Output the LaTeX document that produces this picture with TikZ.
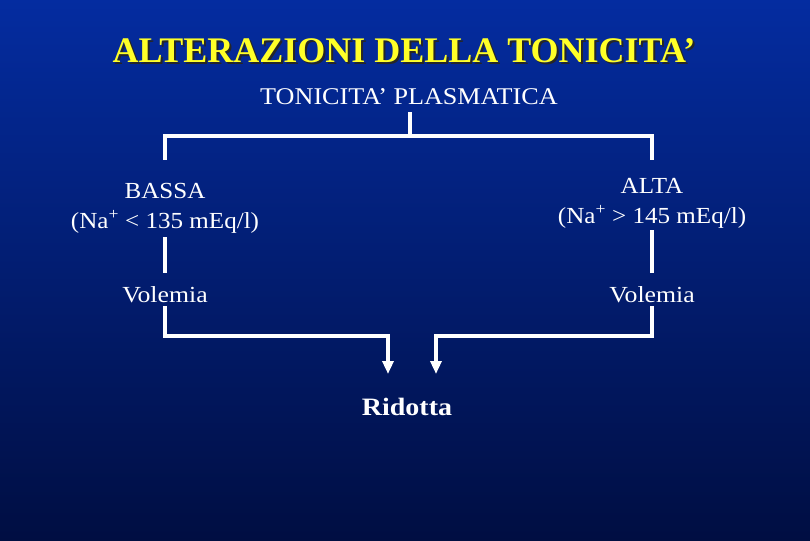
\documentclass[tikz,border=0pt]{standalone}
\usepackage{fontspec}
\setmainfont{Liberation Serif}
\newfontfamily\widefont[FakeStretch=1.09]{Liberation Serif}
\newfontfamily\widerfont[FakeStretch=1.12]{Liberation Serif}
\usetikzlibrary{arrows.meta,shadings}
\definecolor{bgtop}{RGB}{4,44,160}
\definecolor{bgbot}{RGB}{0,14,66}
\definecolor{ttl}{RGB}{255,255,40}
\newcommand{\shadowed}[1]{\makebox[0pt][l]{\hspace{2pt}\raisebox{-2pt}{\color{black!85}#1}}#1}
\tikzset{
  conn/.style={draw=white,line width=4pt,line join=miter,line cap=butt},
  arr/.style={conn,-{Triangle[width=11pt,length=13pt]}},
  lbl/.style={text=white,inner sep=0pt,align=center,font=\widefont\fontsize{23}{30}\selectfont},
}
\begin{document}
\begin{tikzpicture}[x=1pt,y=-1pt]
\shade[top color=bgtop,bottom color=bgbot] (0,0) rectangle (810,540);
\useasboundingbox (0,0) rectangle (810,540);
\node[text=ttl,inner sep=0pt,font=\fontsize{36}{40}\selectfont\bfseries] (title) at (404,52) {\shadowed{ALTERAZIONI DELLA TONICITA’}};
\node[lbl,font=\widefont\fontsize{24}{28}\selectfont] (top) at (409,97) {TONICITA’ PLASMATICA};
\node[lbl] (bassa) at (165,208) {BASSA\\(Na\textsuperscript{+} < 135 mEq/l)};
\node[lbl] (alta) at (652,203) {ALTA\\(Na\textsuperscript{+} > 145 mEq/l)};
\node[lbl,font=\widerfont\fontsize{23}{28}\selectfont] (volL) at (165,295) {Volemia};
\node[lbl,font=\widerfont\fontsize{23}{28}\selectfont] (volR) at (652,295) {Volemia};
\node[lbl,font=\widerfont\fontsize{25}{28}\selectfont\bfseries] (rid) at (407,407) {Ridotta};
% junction coordinates
\coordinate (jT) at (410,136);
\coordinate (jTL) at (165,136);
\coordinate (jTR) at (652,136);
\coordinate (bL1) at (165,160);
\coordinate (bR1) at (652,160);
\coordinate (bL2) at (165,237);
\coordinate (bR2) at (652,230);
\coordinate (vL1) at (165,273);
\coordinate (vR1) at (652,273);
\coordinate (vL2) at (165,306);
\coordinate (vR2) at (652,306);
\coordinate (jL) at (165,336);
\coordinate (jR) at (652,336);
\coordinate (aL) at (388,374);
\coordinate (aR) at (436,374);
% top bracket
\draw[conn] (jT |- top.south) ++(0,7) -- (jT);
\draw[conn] (bL1) -- (jTL) -- (jTR) -- (bR1);
% vertical lines
\draw[conn] (bL2) -- (vL1);
\draw[conn] (bR2) -- (vR1);
\draw[conn] (vL2) -- ([yshift=2]jL);
\draw[conn] (vR2) -- ([yshift=2]jR);
% bottom arrows
\draw[arr] ([xshift=-2]jL) -| (aL);
\draw[arr] ([xshift=2]jR) -| (aR);
\end{tikzpicture}
\end{document}
